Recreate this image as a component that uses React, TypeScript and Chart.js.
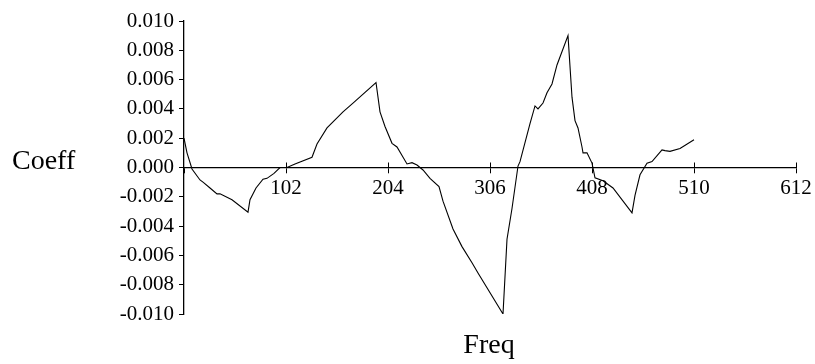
import React, { useEffect, useRef } from "react";
import { Chart, registerables } from "chart.js";

Chart.register(...registerables);

const freqs = [0, 3, 8, 16, 19, 26, 33, 36, 48, 64, 66, 72, 79, 83, 90, 96, 103, 111, 128, 133, 143, 159, 169, 192, 196, 201, 208, 213, 223, 228, 233, 239, 246, 255, 259, 269, 278, 288, 294, 319, 323, 328, 334, 336, 346, 351, 354, 359, 363, 368, 373, 384, 388, 391, 394, 398, 399, 403, 408, 411, 419, 429, 448, 451, 456, 463, 468, 478, 481, 486, 496, 510];
const coeffs = [0.002, 0.001, -0.0001, -0.00085, -0.001, -0.0014, -0.0018, -0.0018, -0.0022, -0.00305, -0.0022, -0.0014, -0.0008, -0.00074, -0.0004, 0.0, 0.0, 0.00024, 0.0007, 0.0016, 0.0027, 0.0038, 0.0044, 0.0058, 0.0038, 0.0028, 0.00165, 0.0014, 0.00024, 0.00033, 0.00017, -0.00017, -0.00074, -0.0013, -0.0023, -0.0042, -0.0054, -0.0065, -0.0072, -0.01, -0.0049, -0.0028, 0.0001, 0.0004, 0.003, 0.0042, 0.004, 0.0044, 0.0051, 0.0057, 0.007, 0.009, 0.0048, 0.0032, 0.0027, 0.0014, 0.001, 0.001, 0.0003, -0.0007, -0.0009, -0.0014, -0.0031, -0.0019, -0.0005, 0.0003, 0.0004, 0.0012, 0.00115, 0.0011, 0.0013, 0.0019];

const xMin = 0;
const xMax = 612;
const xStep = 102;
const yMin = -0.01;
const yMax = 0.01;
const yStep = 0.002;
const xTitle = "Freq";
const yTitle = "Coeff";

const FONT = "'Liberation Serif', 'Times New Roman', serif";

const extrasPlugin = {
  id: "extras",
  afterDraw(chart: any) {
    const { ctx, chartArea, scales } = chart;
    const xs = scales.x;
    const ys = scales.y;
    const y0 = ys.getPixelForValue(0);
    ctx.save();
    ctx.strokeStyle = "#000";
    ctx.lineWidth = 1;
    // upward half of the x tick marks (they cross the axis)
    xs.ticks.forEach((t: any) => {
      if (t.value === 0) return;
      const px = Math.round(xs.getPixelForValue(t.value)) + 0.5;
      ctx.beginPath();
      ctx.moveTo(px, y0 - 5);
      ctx.lineTo(px, y0);
      ctx.stroke();
    });
    ctx.fillStyle = "#000";
    ctx.font = `28px ${FONT}`;
    ctx.textAlign = "left";
    ctx.textBaseline = "alphabetic";
    ctx.fillText(yTitle, 12, y0 + 1);
    ctx.textAlign = "center";
    ctx.fillText(xTitle, (chartArea.left + chartArea.right) / 2 - 1, chartArea.bottom + 39);
    ctx.restore();
  },
};

export default function App() {
  const ref = useRef<HTMLCanvasElement | null>(null);
  useEffect(() => {
    if (!ref.current) return;
    const chart = new Chart(ref.current, {
      type: "line",
      data: {
        datasets: [
          {
            data: freqs.map((f, i) => ({ x: f, y: coeffs[i] })),
            borderColor: "#000",
            borderWidth: 1.1,
            pointRadius: 0,
            tension: 0,
            fill: false,
          },
        ],
      },
      options: {
        animation: false,
        responsive: false,
        devicePixelRatio: 1,
        layout: { padding: { left: 120, right: 19, top: 21, bottom: 50 } },
        plugins: { legend: { display: false }, tooltip: { enabled: false }, title: { display: false } },
        scales: {
          x: {
            type: "linear",
            position: { y: 0 } as any,
            min: xMin,
            max: xMax,
            afterFit(scale: any) {
              scale.height = 0;
            },
            border: { display: true, color: "#000", width: 1.3 },
            grid: { display: true, drawOnChartArea: false, drawTicks: true, tickLength: 5, color: "#000", lineWidth: 1 },
            ticks: {
              stepSize: xStep,
              autoSkip: false,
              maxRotation: 0,
              padding: 3,
              color: "#000",
              font: { family: FONT, size: 21 },
              callback: (v: any) => (v === 0 ? "" : String(v)),
            },
          },
          y: {
            type: "linear",
            position: "left",
            min: yMin,
            max: yMax,
            afterFit(scale: any) {
              scale.width = 64;
            },
            border: { display: true, color: "#000", width: 1.3 },
            grid: { display: true, drawOnChartArea: false, drawTicks: true, tickLength: 5, color: "#000", lineWidth: 1 },
            ticks: {
              stepSize: yStep,
              autoSkip: false,
              padding: 5,
              color: "#000",
              font: { family: FONT, size: 21 },
              callback: (v: any) => Number(v).toFixed(3),
            },
          },
        },
      },
      plugins: [extrasPlugin],
    });
    return () => chart.destroy();
  }, []);
  return (
    <div style={{ position: "fixed", left: 0, top: 0, width: 815, height: 364, background: "#fff" }}>
      <canvas ref={ref} width={815} height={364} style={{ display: "block" }} />
    </div>
  );
}
